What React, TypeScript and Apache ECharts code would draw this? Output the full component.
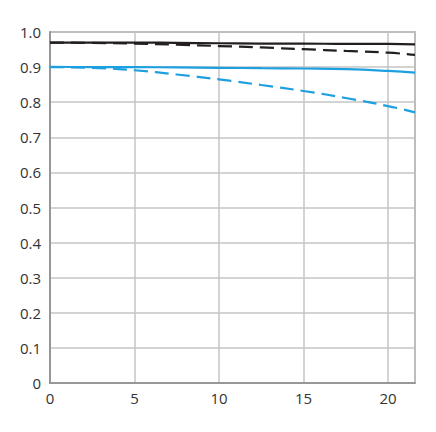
import React, { useEffect, useRef } from "react";
import * as echarts from "echarts";

const xValues = [0, 2.5, 5, 7.5, 10, 12.5, 15, 17.5, 20, 21.6];
const blackSolid = [0.97, 0.97, 0.97, 0.969, 0.968, 0.967, 0.967, 0.966, 0.966, 0.965];
const blackDashed = [0.97, 0.969, 0.967, 0.964, 0.96, 0.956, 0.951, 0.946, 0.941, 0.935];
const blueSolid = [0.901, 0.9, 0.9, 0.899, 0.898, 0.897, 0.896, 0.894, 0.889, 0.884];
const blueDashed = [0.9, 0.898, 0.891, 0.879, 0.865, 0.849, 0.832, 0.812, 0.789, 0.771];

const BLACK = "#231f20";
const BLUE = "#1ea0e0";

function pairs(ys: number[]) {
  return xValues.map((x, i) => [x, ys[i]]);
}

export default function App() {
  const ref = useRef<HTMLDivElement>(null);
  useEffect(() => {
    if (!ref.current) return;
    const chart = echarts.init(ref.current, undefined, { renderer: "svg" });
    const labelStyle = {
      color: "#333333",
      fontSize: 15,
      fontFamily: "Open Sans",
    };
    chart.setOption({
      animation: false,
      grid: {
        left: 42,
        top: 24,
        right: 13,
        bottom: 41,
        show: true,
        borderColor: "#8a8a8a",
        borderWidth: 1.5,
      },
      xAxis: {
        type: "value",
        min: 0,
        max: 21.6,
        interval: 5,
        axisLine: { show: true, lineStyle: { color: "#8a8a8a", width: 1.5 } },
        axisTick: { show: false },
        splitLine: { show: true, lineStyle: { color: "#c4c4c4", width: 1.5 } },
        axisLabel: {
          ...labelStyle,
          margin: 7,
          formatter: (v: number) => (Math.abs(v % 5) < 1e-6 ? String(v) : ""),
        },
      },
      yAxis: {
        type: "value",
        min: 0,
        max: 1,
        interval: 0.1,
        axisLine: { show: true, lineStyle: { color: "#8a8a8a", width: 1.5 } },
        axisTick: { show: false },
        splitLine: { show: true, lineStyle: { color: "#c4c4c4", width: 1.5 } },
        axisLabel: {
          ...labelStyle,
          margin: 9,
          formatter: (v: number) => (v === 0 ? "0" : v.toFixed(1)),
        },
      },
      series: [
        {
          type: "line",
          data: pairs(blackSolid),
          smooth: true,
          showSymbol: false,
          lineStyle: { color: BLACK, width: 2.2 },
        },
        {
          type: "line",
          data: pairs(blackDashed),
          smooth: true,
          showSymbol: false,
          lineStyle: { color: BLACK, width: 2.2, type: [14, 7] },
        },
        {
          type: "line",
          data: pairs(blueSolid),
          smooth: true,
          showSymbol: false,
          lineStyle: { color: BLUE, width: 2.2 },
        },
        {
          type: "line",
          data: pairs(blueDashed),
          smooth: true,
          showSymbol: false,
          lineStyle: { color: BLUE, width: 2.2, type: [14, 7] },
        },
      ],
    });
    return () => chart.dispose();
  }, []);
  return <div ref={ref} style={{ width: 420, height: 416 }} />;
}
